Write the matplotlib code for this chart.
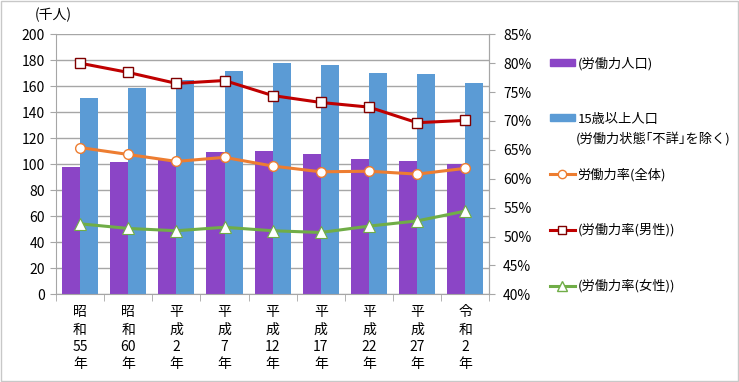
import numpy as np
import matplotlib.pyplot as plt
from matplotlib.lines import Line2D
from matplotlib.patches import Rectangle

plt.rcParams['font.family'] = ['Noto Sans CJK JP', 'DejaVu Sans']

#### DATA ####

years = ["昭\n和\n55\n年", "昭\n和\n60\n年", "平\n成\n2\n年", "平\n成\n7\n年", "平\n成\n12\n年",
         "平\n成\n17\n年", "平\n成\n22\n年", "平\n成\n27\n年", "令\n和\n2\n年"]

# thousand persons
labour_force = [98.1, 101.9, 103.0, 109.6, 110.3, 108.0, 104.2, 102.7, 100.4]
pop_15_over = [151.0, 158.6, 164.8, 171.6, 178.0, 176.2, 170.3, 169.3, 162.5]

# participation rates (%)
rate_total = [65.4, 64.2, 63.0, 63.7, 62.2, 61.2, 61.3, 60.8, 61.8]
rate_male = [80.0, 78.4, 76.5, 77.0, 74.4, 73.2, 72.4, 69.7, 70.1]
rate_female = [52.2, 51.4, 51.0, 51.6, 51.0, 50.7, 51.8, 52.7, 54.4]

left_ticks = list(range(0, 201, 20))
right_ticks = list(range(40, 86, 5))

#### PLOT ####

purple = '#8b45c6'
blue = '#5b9bd5'
orange = '#ed7d31'
red = '#c00000'
green = '#70ad47'
grey = '#a6a6a6'

fig = plt.figure(figsize=(7.39, 3.82), dpi=100)
ax = fig.add_axes([56 / 739, 1 - 294.3 / 382, (489.3 - 56) / 739, 260 / 382])

x = np.arange(len(years))
w = 0.375
ax.bar(x - w / 2, labour_force, w, color=purple, zorder=2)
ax.bar(x + w / 2, pop_15_over, w, color=blue, zorder=2)

ax.set_xlim(-0.5, len(years) - 0.5)
ax.set_ylim(0, 200)
ax.set_yticks(left_ticks)
ax.yaxis.grid(True, color=grey, lw=1)
ax.set_axisbelow(True)
ax.set_xticks(x)
ax.set_xticklabels(years, fontsize=10, linespacing=1.3)
ax.set_xticks(np.arange(-0.5, len(years)), minor=True)
ax.tick_params(axis='x', which='major', length=0, pad=8)
ax.tick_params(axis='x', which='minor', length=5, color=grey)
ax.tick_params(axis='y', length=4, color=grey, labelsize=10, pad=4)
ax.spines['top'].set_visible(False)
for side in ['left', 'bottom', 'right']:
    ax.spines[side].set_color(grey)

ax2 = ax.twinx()
ax2.set_ylim(40, 85)
ax2.set_yticks(right_ticks)
ax2.set_yticklabels([f"{t}%" for t in right_ticks])
ax2.tick_params(axis='y', length=4, color=grey, labelsize=10, pad=6)
for side in ['top', 'left', 'bottom']:
    ax2.spines[side].set_visible(False)
ax2.spines['right'].set_color(grey)

ax2.plot(x, rate_total, color=orange, lw=2.2, marker='o', ms=7,
         mfc='white', mec=orange, mew=1, zorder=3)
ax2.plot(x, rate_male, color=red, lw=2.2, marker='s', ms=7,
         mfc='white', mec='#7f0000', mew=1, zorder=3)
ax2.plot(x, rate_female, color=green, lw=2.2, marker='^', ms=8,
         mfc='white', mec=green, mew=0.8, zorder=3)

fig.text(35 / 739, 1 - 15 / 382, "(千人)", fontsize=10, va='center', ha='left')

# legend
handles = [
    Rectangle((0, 0), 1, 1, color=purple),
    Rectangle((0, 0), 1, 1, color=blue),
    Line2D([], [], color=orange, lw=2.2, marker='o', ms=6, mfc='white', mec=orange),
    Line2D([], [], color=red, lw=2.2, marker='s', ms=6, mfc='white', mec='#7f0000'),
    Line2D([], [], color=green, lw=2.2, marker='^', ms=7, mfc='white', mec=green),
]
labels = ["(労働力人口)", "15歳以上人口", "労働力率(全体)", "(労働力率(男性))", "(労働力率(女性))"]
leg = fig.legend(handles, labels, loc='upper left', bbox_to_anchor=(538 / 739, 1 - 45 / 382),
                 frameon=False, fontsize=9.5, labelspacing=3.2, handlelength=1.9,
                 handleheight=0.45, handletextpad=0.2)
fig.text(576 / 739, 1 - 139 / 382, "(労働力状態｢不詳｣を除く)", fontsize=9.5, va='center', ha='left')

# outer frame
fig.patches.append(Rectangle((0.001, 0.002), 0.997, 0.995, transform=fig.transFigure,
                             fill=False, edgecolor='#c8c8c8', lw=1))

fig.savefig("out.png", dpi=100)
plt.close()
